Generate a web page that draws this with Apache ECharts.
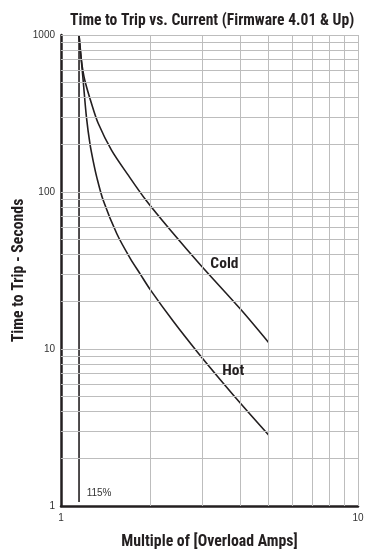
<!DOCTYPE html>
<html>
<head>
<meta charset="utf-8">
<script src="https://cdn.jsdelivr.net/npm/echarts@6/dist/echarts.min.js"></script>
<style>html,body{margin:0;padding:0;background:#fff}#c{width:365px;height:550px}</style>
</head>
<body>
<div id="c"></div>
<script>
var titleText = 'Time to Trip vs. Current (Firmware 4.01 & Up)';
var xName = 'Multiple of [Overload Amps]';
var yName = 'Time to Trip - Seconds';

var coldX = [1.15, 1.171, 1.202, 1.266, 1.334, 1.479, 1.684, 1.93, 2.334, 2.949, 4.025, 5.0];
var coldY = [1000, 693, 517, 367, 274, 185, 128, 89, 57.3, 34.3, 17.9, 11];
var hotX = [1.15, 1.17, 1.187, 1.218, 1.253, 1.283, 1.32, 1.386, 1.543, 1.71, 1.849, 2.0, 2.395, 2.873, 3.444, 4.13, 5.0];
var hotY = [1000, 700, 517, 300, 200, 158, 124, 89, 54, 37.8, 30.0, 23.8, 14.9, 9.61, 6.35, 4.25, 2.83];
var limitX = [1.15, 1.15];
var limitY = [1000, 1.06];

var xGrid = [2, 3, 4, 5, 6, 7, 8, 9, 10];
var yGrid = [2, 3, 4, 5, 6, 7, 8, 9, 10, 20, 30, 40, 50, 60, 70, 80, 90, 100, 200, 300, 400, 500, 600, 700, 800, 900, 1000];
var xTickLabels = [1, 10];
var yTickLabels = [1, 10, 100, 1000];

var coldLabel = {x: 3.55, y: 34.8, text: 'Cold'};
var hotLabel = {x: 3.8, y: 7.2, text: 'Hot'};
var limitLabel = {x: 1.22, y: 1.21, text: '115%'};

function zip(a, b) { return a.map(function (v, i) { return [v, b[i]]; }); }

var narrow = "'Liberation Sans Narrow', 'Arial Narrow', 'Roboto Condensed', sans-serif";
var reg = "'Liberation Sans', Arial, sans-serif";

var gridLines = [];
xGrid.forEach(function (v) { gridLines.push({xAxis: v}); });
yGrid.forEach(function (v) { gridLines.push({yAxis: v}); });

var chart = echarts.init(document.getElementById('c'), null, {renderer: 'canvas'});
chart.setOption({
  animation: false,
  backgroundColor: '#fff',
  title: {
    text: titleText, left: 65, top: 8,
    textStyle: {fontFamily: narrow, fontWeight: 'bold', fontSize: 15.6, color: '#231f20'}
  },
  grid: {left: 61, right: 7, top: 35, bottom: 44, containLabel: false, outerBoundsMode: 'none'},
  xAxis: {
    type: 'log', logBase: 10, min: 1, max: 10,
    name: xName, nameLocation: 'middle', nameGap: 28, nameMoveOverlap: false,
    nameTextStyle: {fontFamily: narrow, fontWeight: 'bold', fontSize: 15.8, color: '#231f20'},
    axisLine: {show: true, onZero: false, lineStyle: {color: '#231f20', width: 2.5}},
    axisTick: {show: false},
    splitLine: {show: false},
    axisLabel: {
      margin: 7, fontFamily: reg, fontSize: 10, color: '#333',
      formatter: function (v) { return xTickLabels.indexOf(Math.round(v)) >= 0 ? String(Math.round(v)) : ''; }
    }
  },
  yAxis: {
    type: 'log', logBase: 10, min: 1, max: 1000,
    name: yName, nameLocation: 'middle', nameGap: 34, nameMoveOverlap: false,
    nameTextStyle: {fontFamily: narrow, fontWeight: 'bold', fontSize: 15.8, color: '#231f20'},
    axisLine: {show: true, onZero: false, lineStyle: {color: '#231f20', width: 2.5}},
    axisTick: {show: false},
    splitLine: {show: false},
    axisLabel: {
      margin: 6, fontFamily: reg, fontSize: 10, color: '#333',
      formatter: function (v) { return yTickLabels.indexOf(Math.round(v)) >= 0 ? String(Math.round(v)) : ''; }
    }
  },
  series: [
    {
      type: 'line', data: [], silent: true,
      markLine: {
        silent: true, symbol: ['none', 'none'], animation: false,
        label: {show: false},
        lineStyle: {color: '#bdbdbd', width: 1, type: 'solid'},
        emphasis: {disabled: true},
        data: gridLines
      }
    },
    {
      name: 'Limit', type: 'line', data: zip(limitX, limitY), showSymbol: false, symbol: 'none',
      lineStyle: {color: '#231f20', width: 1.6}, z: 3,
      markPoint: {
        symbolSize: 0, data: [{coord: [limitLabel.x, limitLabel.y]}],
        label: {show: true, position: 'inside', align: 'left', formatter: limitLabel.text, fontFamily: reg, fontSize: 10, color: '#333'}
      }
    },
    {
      name: 'Cold', type: 'line', data: zip(coldX, coldY), smooth: 0.3, showSymbol: false, symbol: 'none',
      lineStyle: {color: '#231f20', width: 1.6}, z: 3,
      markPoint: {
        symbolSize: 0, data: [{coord: [coldLabel.x, coldLabel.y]}],
        label: {show: true, position: 'inside', formatter: coldLabel.text, fontFamily: narrow, fontWeight: 'bold', fontSize: 15.5, color: '#231f20'}
      }
    },
    {
      name: 'Hot', type: 'line', data: zip(hotX, hotY), smooth: 0.3, showSymbol: false, symbol: 'none',
      lineStyle: {color: '#231f20', width: 1.6}, z: 3,
      markPoint: {
        symbolSize: 0, data: [{coord: [hotLabel.x, hotLabel.y]}],
        label: {show: true, position: 'inside', formatter: hotLabel.text, fontFamily: narrow, fontWeight: 'bold', fontSize: 15.5, color: '#231f20'}
      }
    }
  ]
});
</script>
</body>
</html>
